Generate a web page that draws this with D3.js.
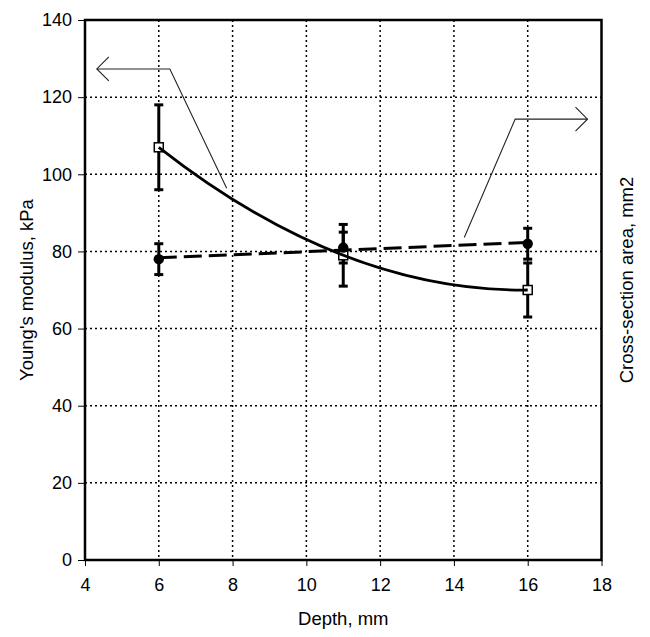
<!DOCTYPE html>
<html>
<head>
<meta charset="utf-8">
<script src="https://cdn.jsdelivr.net/npm/d3@7"></script>
<style>
  html, body { margin: 0; padding: 0; background: #fff; }
  svg { display: block; font-family: "Liberation Sans", Arial, sans-serif; }
</style>
</head>
<body>
<svg id="chart" width="650" height="637"></svg>
<script>
// ---- data ----
const depths = [6, 11, 16];
const modulus = [107, 79, 70];
const modulusErr = [11, 8, 7];
const area = [78, 81, 82];
const areaErr = [4, 4, 4];
const xTicks = [4, 6, 8, 10, 12, 14, 16, 18];
const yTicks = [0, 20, 40, 60, 80, 100, 120, 140];
const xLabel = "Depth, mm";
const yLabel = "Young's modulus, kPa";
const y2Label = "Cross-section area, mm2";
// annotation arrows (data units): tail, bend, tip
const leftArrow = [[7.84, 96.4], [6.30, 127.3], [4.32, 127.3]];
const rightArrow = [[14.28, 83.6], [15.66, 114.3], [17.62, 114.3]];

// ---- layout ----
const svg = d3.select("#chart");
const L = 85, R = 601.5, T = 20, B = 560;
const x = d3.scaleLinear().domain([4, 18]).range([L, R]);
const y = d3.scaleLinear().domain([0, 140]).range([B, T]);

// grid
const grid = svg.append("g").attr("stroke", "#000").attr("stroke-width", 1.5).attr("stroke-dasharray", "2,3");
grid.selectAll("line.v").data(xTicks.slice(1, -1)).join("line")
  .attr("x1", d => x(d)).attr("x2", d => x(d)).attr("y1", T).attr("y2", B);
grid.selectAll("line.h").data(yTicks.slice(1, -1)).join("line")
  .attr("y1", d => y(d)).attr("y2", d => y(d)).attr("x1", L).attr("x2", R);

// axes
const xAxis = svg.append("g").attr("transform", `translate(0,${B})`)
  .call(d3.axisBottom(x).tickValues(xTicks).tickSize(6).tickPadding(12).tickFormat(d3.format("d")));
const yAxis = svg.append("g").attr("transform", `translate(${L},0)`)
  .call(d3.axisLeft(y).tickValues(yTicks).tickSize(7).tickPadding(6).tickFormat(d3.format("d")));
[xAxis, yAxis].forEach(g => {
  g.select(".domain").remove();
  g.selectAll(".tick line").attr("stroke", "#000").attr("stroke-width", 1);
  g.selectAll(".tick text").attr("font-size", 18).attr("fill", "#000")
    .attr("font-family", "Liberation Sans, Arial, sans-serif");
});

// frame
svg.append("rect").attr("x", L).attr("y", T).attr("width", R - L).attr("height", B - T)
  .attr("fill", "none").attr("stroke", "#000").attr("stroke-width", 2.5);

// titles
svg.append("text").attr("x", (L + R) / 2).attr("y", 625).attr("text-anchor", "middle")
  .attr("font-size", 18.5).text(xLabel);
svg.append("text").attr("transform", `translate(33,${(T + B) / 2}) rotate(-90)`)
  .attr("text-anchor", "middle").attr("font-size", 18.5).text(yLabel);
svg.append("text").attr("transform", `translate(633,${(T + B) / 2 - 10}) rotate(-90)`)
  .attr("text-anchor", "middle").attr("font-size", 18.5).text(y2Label);

// error bars
function errorBars(vals, errs) {
  const g = svg.append("g").attr("stroke", "#000").attr("stroke-width", 3);
  depths.forEach((d, i) => {
    const cx = x(d), top = y(vals[i] + errs[i]), bot = y(vals[i] - errs[i]);
    g.append("line").attr("x1", cx).attr("x2", cx).attr("y1", top).attr("y2", bot);
    g.append("line").attr("x1", cx - 4.5).attr("x2", cx + 4.5).attr("y1", top).attr("y2", top);
    g.append("line").attr("x1", cx - 4.5).attr("x2", cx + 4.5).attr("y1", bot).attr("y2", bot);
  });
}
errorBars(modulus, modulusErr);
errorBars(area, areaErr);

// square markers
svg.append("g").selectAll("rect").data(depths).join("rect")
  .attr("x", (d) => x(d) - 4.5).attr("y", (d, i) => y(modulus[i]) - 4.5)
  .attr("width", 9).attr("height", 9).attr("fill", "#fff").attr("stroke", "#000").attr("stroke-width", 1.5);

// polynomial (2nd order) trend through modulus: quadratic Bezier through 3 points
const P = depths.map((d, i) => [x(d), y(modulus[i])]);
const cpx = 2 * P[1][0] - (P[0][0] + P[2][0]) / 2;
const cpy = 2 * P[1][1] - (P[0][1] + P[2][1]) / 2;
const qp = d3.path();
qp.moveTo(P[0][0], P[0][1]);
qp.quadraticCurveTo(cpx, cpy, P[2][0], P[2][1]);
svg.append("path").attr("d", qp.toString()).attr("fill", "none").attr("stroke", "#000").attr("stroke-width", 2.8);

// linear trend through area
const mx = d3.mean(depths), my = d3.mean(area);
const slope = d3.sum(depths.map((d, i) => (d - mx) * (area[i] - my))) / d3.sum(depths.map(d => (d - mx) ** 2));
const lin = v => my + slope * (v - mx);
const x0 = depths[0], x1 = depths[depths.length - 1];
svg.append("line").attr("x1", x(x0)).attr("y1", y(lin(x0))).attr("x2", x(x1)).attr("y2", y(lin(x1)))
  .attr("stroke", "#000").attr("stroke-width", 3).attr("stroke-dasharray", "18,7");

// circle markers
svg.append("g").selectAll("circle").data(depths).join("circle")
  .attr("cx", d => x(d)).attr("cy", (d, i) => y(area[i])).attr("r", 5.2).attr("fill", "#000");

// annotation arrows
function arrow(pts, dir) {
  const p = pts.map(q => [x(q[0]), y(q[1])]);
  svg.append("path").attr("d", d3.line()(p)).attr("fill", "none").attr("stroke", "#222").attr("stroke-width", 1.1);
  const tip = p[p.length - 1];
  const back = tip[0] - dir * 12;
  svg.append("path").attr("d", d3.line()([[back, tip[1] - 12], tip, [back, tip[1] + 12]]))
    .attr("fill", "none").attr("stroke", "#222").attr("stroke-width", 1.1);
}
arrow(leftArrow, -1);
arrow(rightArrow, 1);
</script>
</body>
</html>
